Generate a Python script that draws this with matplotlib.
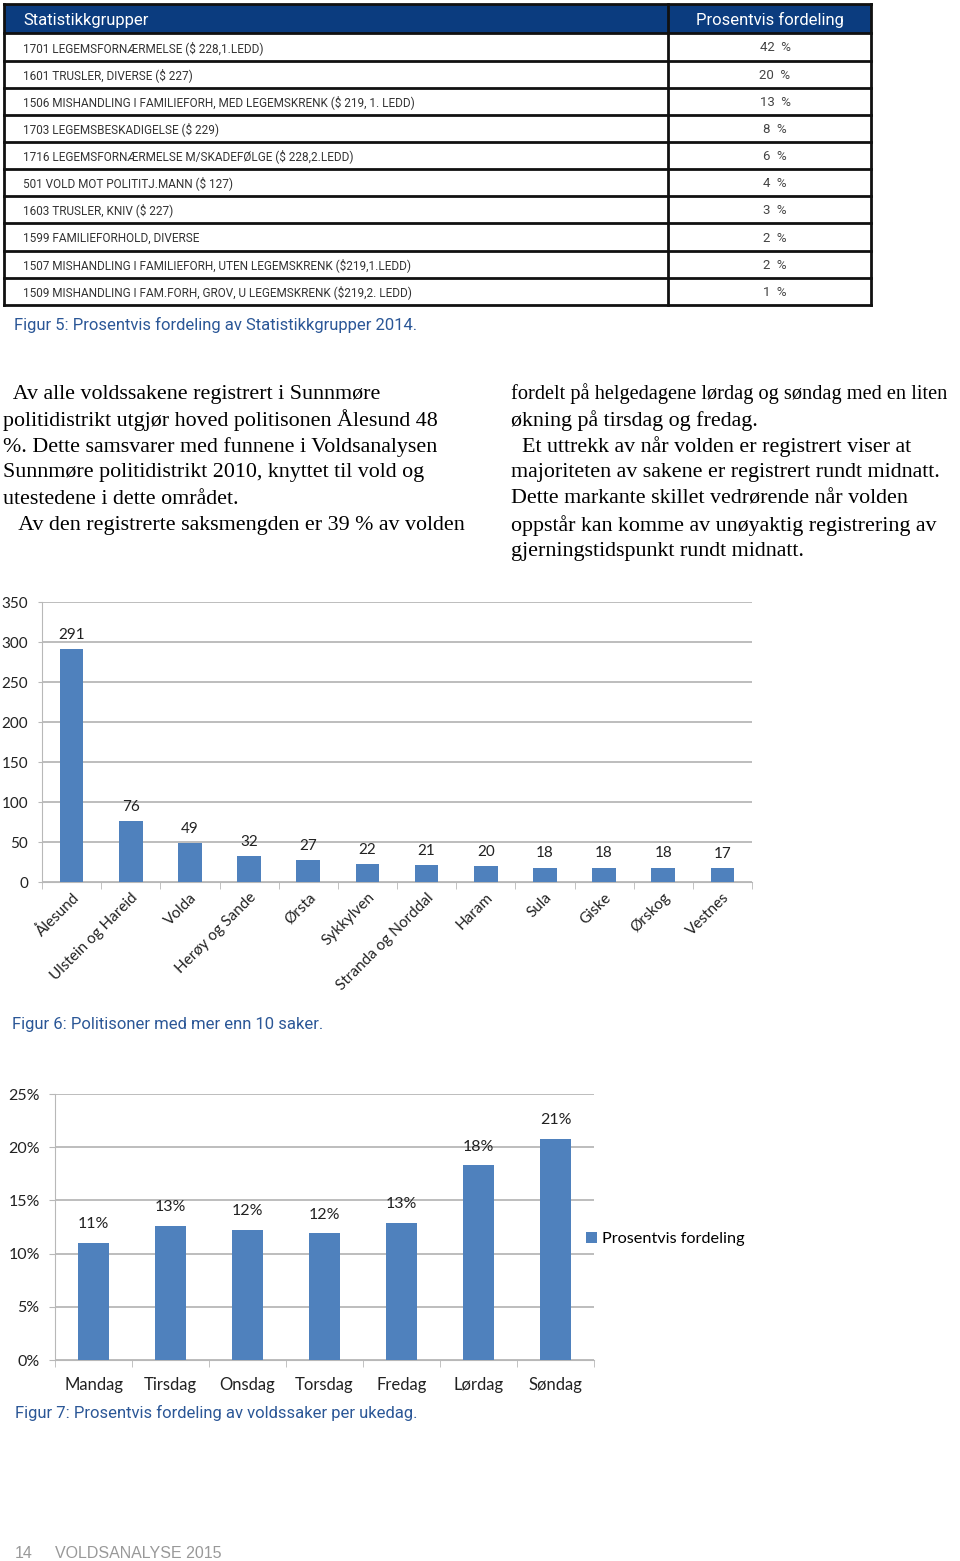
import matplotlib
matplotlib.use("Agg")
import matplotlib.pyplot as plt
from matplotlib.patches import Rectangle

# ---- data ----
table_groups = [
    "1701 LEGEMSFORNÆRMELSE ($ 228,1.LEDD)",
    "1601 TRUSLER, DIVERSE ($ 227)",
    "1506 MISHANDLING I FAMILIEFORH, MED LEGEMSKRENK ($ 219, 1. LEDD)",
    "1703 LEGEMSBESKADIGELSE ($ 229)",
    "1716 LEGEMSFORNÆRMELSE M/SKADEFØLGE ($ 228,2.LEDD)",
    "501 VOLD MOT POLITITJ.MANN ($ 127)",
    "1603 TRUSLER, KNIV ($ 227)",
    "1599 FAMILIEFORHOLD, DIVERSE",
    "1507 MISHANDLING I FAMILIEFORH, UTEN LEGEMSKRENK ($219,1.LEDD)",
    "1509 MISHANDLING I FAM.FORH, GROV, U LEGEMSKRENK ($219,2. LEDD)",
]
table_pct = [42, 20, 13, 8, 6, 4, 3, 2, 2, 1]

zones = ["Ålesund", "Ulstein og Hareid", "Volda", "Herøy og Sande", "Ørsta",
         "Sykkylven", "Stranda og Norddal", "Haram", "Sula", "Giske",
         "Ørskog", "Vestnes"]
zone_cases = [291, 76, 49, 32, 27, 22, 21, 20, 18, 18, 18, 17]

days = ["Mandag", "Tirsdag", "Onsdag", "Torsdag", "Fredag", "Lørdag", "Søndag"]
day_share = [11.0, 12.6, 12.2, 11.9, 12.9, 18.3, 20.8]

left_text = [
    "  Av alle voldssakene registrert i Sunnmøre",
    "politidistrikt utgjør hoved politisonen Ålesund 48",
    "%. Dette samsvarer med funnene i Voldsanalysen",
    "Sunnmøre politidistrikt 2010, knyttet til vold og",
    "utestedene i dette området.",
    "   Av den registrerte saksmengden er 39 % av volden",
]
right_text = [
    "fordelt på helgedagene lørdag og søndag med en liten",
    "økning på tirsdag og fredag.",
    "  Et uttrekk av når volden er registrert viser at",
    "majoriteten av sakene er registrert rundt midnatt.",
    "Dette markante skillet vedrørende når volden",
    "oppstår kan komme av unøyaktig registrering av",
    "gjerningstidspunkt rundt midnatt.",
]

W, H = 960, 1561
BLUE = "#4f81bd"
NAVY = "#0b3c7f"
CAP = "#2b5797"
GRID = "#b8b8b8"
DOCFONT = ["Roboto", "DejaVu Sans"]
CHARTFONT = ["Lato", "DejaVu Sans"]
SERIF = ["Liberation Serif", "DejaVu Serif"]

fig = plt.figure(figsize=(W / 100, H / 100), dpi=100)
page = fig.add_axes([0, 0, 1, 1])
page.set_xlim(0, W)
page.set_ylim(H, 0)
page.axis("off")

# ---- table (figur 5) ----
row_edges = [33, 60.5, 88, 115, 142, 169, 196, 223, 251, 278, 305]
page.add_patch(Rectangle((4, 4), 867, 29, facecolor=NAVY, edgecolor="none"))
page.text(23, 20, "Statistikkgrupper", color="white", fontsize=12,
          va="center", family=DOCFONT)
page.text(770, 20, "Prosentvis fordeling", color="white", fontsize=12,
          va="center", ha="center", family=DOCFONT)
for yy in row_edges:
    page.plot([4, 871], [yy, yy], color="#111111", lw=2)
page.plot([4, 871], [4, 4], color="#111111", lw=2)
for xx in [4, 668, 871]:
    page.plot([xx, xx], [4, 305], color="#111111", lw=2)
for i, (g, p) in enumerate(zip(table_groups, table_pct)):
    yc = (row_edges[i] + row_edges[i + 1]) / 2 + 1
    page.text(23, yc, g, fontsize=8.5, va="center", color="#333333", family=DOCFONT)
    page.text(775, yc, f"{p}  %", fontsize=9.5, va="center", ha="center",
              color="#444444", family=DOCFONT)
page.text(14, 325, "Figur 5: Prosentvis fordeling av Statistikkgrupper 2014.",
          fontsize=12, color=CAP, va="center", family=DOCFONT)

# ---- body text ----
for i, line in enumerate(left_text):
    page.text(3, 394 + i * 26.3, line, fontsize=15.8, va="center", family=SERIF)
for i, line in enumerate(right_text):
    # first line is set tighter in the original so it fits the column
    size = 14.7 if i == 0 else 15.8
    page.text(511, 394 + i * 26.3, line, fontsize=size, va="center", family=SERIF)

# ---- chart 1 (figur 6) ----
ax1 = fig.add_axes([42 / W, 1 - 882 / H, (752 - 42) / W, (882 - 602) / H])
x1 = range(len(zones))
ax1.bar(x1, zone_cases, width=0.4, color=BLUE, zorder=3)
ax1.set_ylim(0, 350)
ax1.set_xlim(-0.5, len(zones) - 0.5)
ax1.set_yticks(range(0, 351, 50))
ax1.yaxis.grid(True, color=GRID, lw=1.3)
ax1.set_axisbelow(True)
for s in ["top", "right"]:
    ax1.spines[s].set_visible(False)
ax1.spines["left"].set_color(GRID)
ax1.spines["bottom"].set_color(GRID)
ax1.tick_params(axis="y", length=3, color=GRID, pad=7, labelsize=11,
                labelcolor="#222222")
ax1.set_xticks([i + 0.5 for i in range(-1, len(zones))], minor=True)
ax1.set_xticks(list(x1))
ax1.tick_params(axis="x", which="major", length=0, pad=6)
ax1.tick_params(axis="x", which="minor", length=5, color=GRID)
ax1.set_xticklabels(zones, rotation=45, ha="right", rotation_mode="anchor",
                    fontsize=11, color="#222222", family=CHARTFONT)
for lab in ax1.get_yticklabels():
    lab.set_family(CHARTFONT)
for i, v in enumerate(zone_cases):
    ax1.text(i, v + 9, str(v), ha="center", va="bottom", fontsize=11,
             color="#222222", family=CHARTFONT)
page.text(12, 1024, "Figur 6: Politisoner med mer enn 10 saker.", fontsize=12,
          color=CAP, va="center", family=DOCFONT)

# ---- chart 2 (figur 7) ----
ax2 = fig.add_axes([55 / W, 1 - 1360 / H, (594 - 55) / W, (1360 - 1094) / H])
x2 = range(len(days))
ax2.bar(x2, day_share, width=0.39, color=BLUE, zorder=3,
        label="Prosentvis fordeling")
ax2.set_ylim(0, 25)
ax2.set_xlim(-0.5, len(days) - 0.5)
ax2.set_yticks(range(0, 26, 5))
ax2.set_yticklabels([f"{t}%" for t in range(0, 26, 5)])
ax2.yaxis.grid(True, color=GRID, lw=1.3)
ax2.set_axisbelow(True)
for s in ["top", "right"]:
    ax2.spines[s].set_visible(False)
ax2.spines["left"].set_color(GRID)
ax2.spines["bottom"].set_color(GRID)
ax2.tick_params(axis="y", length=4, color=GRID, pad=7, labelsize=11.5,
                labelcolor="#222222")
ax2.set_xticks([i + 0.5 for i in range(-1, len(days))], minor=True)
ax2.set_xticks(list(x2))
ax2.tick_params(axis="x", which="major", length=0, pad=12)
ax2.tick_params(axis="x", which="minor", length=5, color=GRID)
ax2.set_xticklabels(days, fontsize=12, color="#222222", family=CHARTFONT)
for lab in ax2.get_yticklabels():
    lab.set_family(CHARTFONT)
for i, v in enumerate(day_share):
    ax2.text(i, v + 1.1, f"{round(v):.0f}%", ha="center", va="bottom",
             fontsize=11.5, color="#222222", family=CHARTFONT)
ax2.legend(loc="center left", bbox_to_anchor=(0.985, 0.455), frameon=False,
           borderaxespad=0, borderpad=0,
           handlelength=0.7, handleheight=0.7, handletextpad=0.3,
           prop={"family": CHARTFONT, "size": 11.7})
page.text(15, 1413, "Figur 7: Prosentvis fordeling av voldssaker per ukedag.",
          fontsize=12, color=CAP, va="center", family=DOCFONT)

# ---- footer ----
page.text(15, 1553, "14", fontsize=11.5, color="#999999", va="center",
          family=["Liberation Sans", "DejaVu Sans"])
page.text(55, 1553, "VOLDSANALYSE 2015", fontsize=11.5, color="#999999",
          va="center", family=["Liberation Sans", "DejaVu Sans"])

fig.savefig("out.png", dpi=100)
